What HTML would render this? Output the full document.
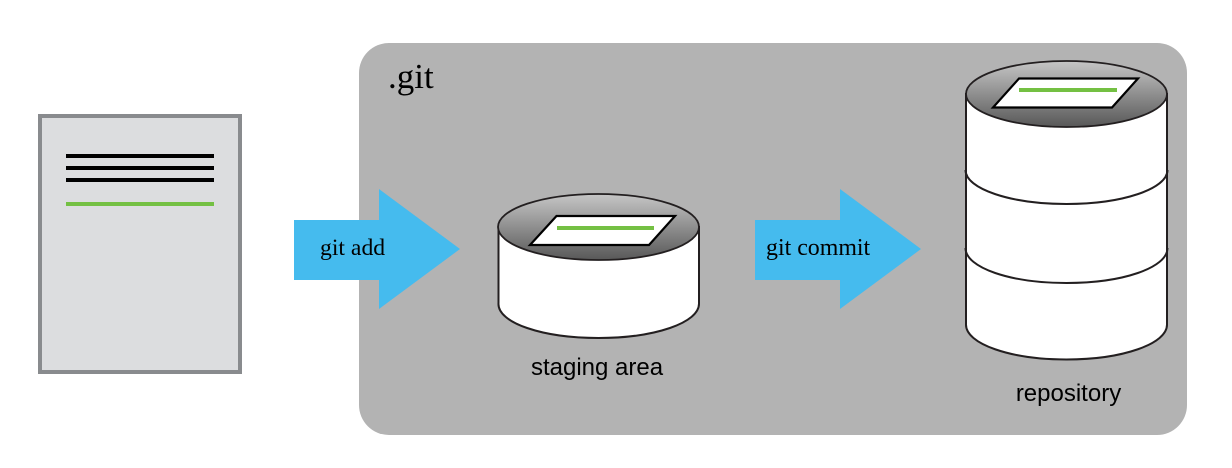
<!DOCTYPE html>
<html>
<head>
<meta charset="utf-8">
<style>
html,body{margin:0;padding:0;background:#fff}
svg{display:block}
.serif{font-family:"Liberation Serif",serif;fill:#000}
.sans{font-family:"Liberation Sans",sans-serif;fill:#000}
</style>
</head>
<body>
<svg width="1232" height="468" viewBox="0 0 1232 468" xmlns="http://www.w3.org/2000/svg">
<defs>
<linearGradient id="g" x1="0" y1="0" x2="0" y2="1">
<stop offset="0" stop-color="#c6c6c6"/>
<stop offset="1" stop-color="#585858"/>
</linearGradient>
</defs>
<rect width="1232" height="468" fill="#fff"/>

<!-- working file -->
<rect x="40" y="116" width="200" height="256" fill="#dcdddf" stroke="#898b8e" stroke-width="4"/>
<rect x="66" y="154" width="148" height="4" fill="#000"/>
<rect x="66" y="166" width="148" height="4" fill="#000"/>
<rect x="66" y="178" width="148" height="4" fill="#000"/>
<rect x="66" y="202" width="148" height="4" fill="#74c043"/>

<!-- .git container -->
<rect x="359" y="43" width="828" height="392" rx="30" ry="30" fill="#b3b3b3"/>
<text x="388" y="88" class="serif" font-size="35">.git</text>

<!-- git add arrow -->
<polygon points="294,220 379,220 379,189 460,249 379,309 379,280 294,280" fill="#45bbee"/>
<text x="320" y="255" class="serif" font-size="23.700">git add</text>

<!-- git commit arrow -->
<polygon points="755,220 840,220 840,189 921,249 840,309 840,280 755,280" fill="#45bbee"/>
<text x="766" y="255" class="serif" font-size="23.900">git commit</text>

<!-- staging cylinder -->
<path d="M498.500,227 L498.500,303 C497,323 543,338 598.500,338 C654,338 700,323 699,303 L699,227 Z" fill="#fff" stroke="#231f20" stroke-width="2"/>
<ellipse cx="598.500" cy="227" rx="100.500" ry="33" fill="url(#g)" stroke="#231f20" stroke-width="1.800"/>
<polygon points="556.500,216 675,216 649,245 530,245" fill="#fff" stroke="#000" stroke-width="2.200"/>
<rect x="557" y="226" width="97" height="4" fill="#74c043"/>
<text x="597" y="375" class="sans" font-size="24" text-anchor="middle">staging area</text>

<!-- repository cylinder -->
<path d="M966,94 L966,324 C965,344 1011,359.500 1066.500,359.500 C1122,359.500 1168,344 1167,324 L1167,94 Z" fill="#fff" stroke="#231f20" stroke-width="2"/>
<path d="M965.500,170 C965.500,189 1011,204 1066.500,204 C1122,204 1167.500,189 1167.500,170" fill="none" stroke="#231f20" stroke-width="2"/>
<path d="M965.500,248 C965.500,268 1011,283 1066.500,283 C1122,283 1167.500,268 1167.500,248" fill="none" stroke="#231f20" stroke-width="2"/>
<ellipse cx="1066.500" cy="94" rx="100.500" ry="33" fill="url(#g)" stroke="#231f20" stroke-width="1.800"/>
<polygon points="1019,78.500 1138,78.500 1112,107.500 993,107.500" fill="#fff" stroke="#000" stroke-width="2.200"/>
<rect x="1019" y="88" width="98" height="4" fill="#74c043"/>
<text x="1068.500" y="401" class="sans" font-size="24" text-anchor="middle">repository</text>
</svg>
</body>
</html>
